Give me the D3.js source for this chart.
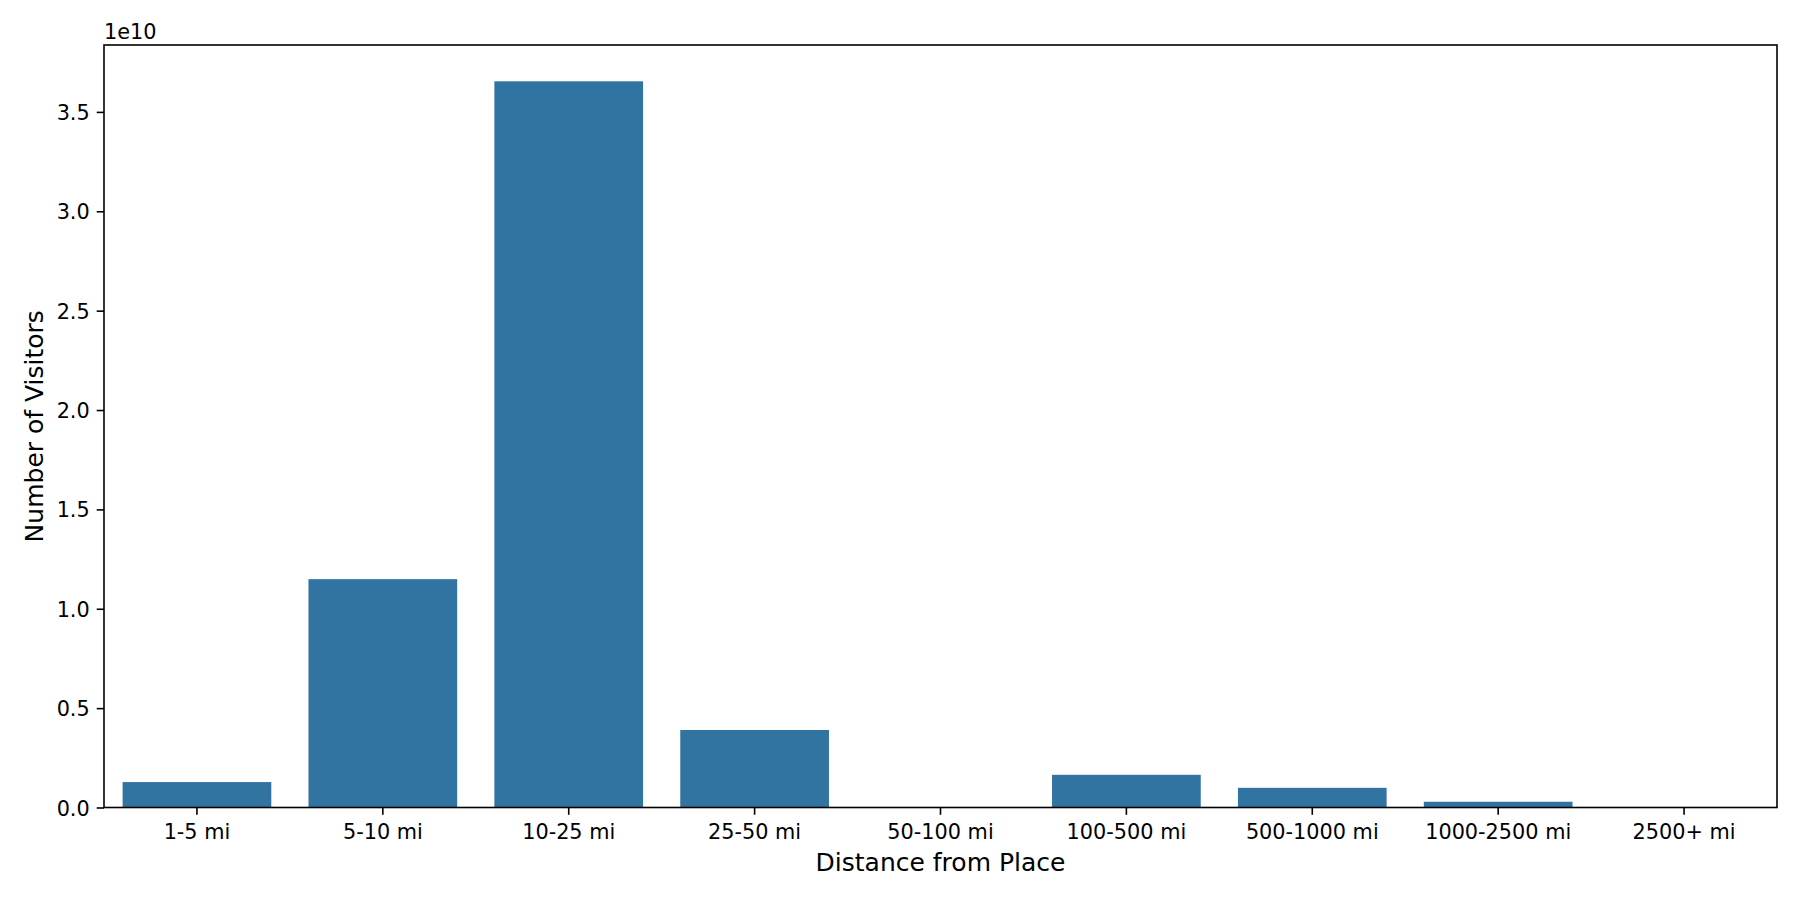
<!DOCTYPE html>
<html>
<head>
<meta charset="utf-8">
<script src="https://cdn.jsdelivr.net/npm/d3@7"></script>
<style>
  body { margin: 0; background: #fff; }
  svg { display: block; font-family: "DejaVu Sans", sans-serif; }
</style>
</head>
<body>
<div id="chart"></div>
<script>
// Visitors by distance band
let categories = ['1-5 mi', '5-10 mi', '10-25 mi', '25-50 mi', '50-100 mi',
  '100-500 mi', '500-1000 mi', '1000-2500 mi', '2500+ mi'];
let visitors = [1.28e9, 1.149e10, 3.654e10, 3.90e9, 5e6, 1.645e9, 9.9e8, 2.9e8, 8e6];
let yTicks = [0, 0.5e10, 1.0e10, 1.5e10, 2.0e10, 2.5e10, 3.0e10, 3.5e10];

let width = 1800;
let height = 900;
let margin = {left: 104, right: 23, top: 45, bottom: 92.5};
let barColor = '#3274a1';

let svg = d3.select('#chart')
  .append('svg')
  .attr('width', width)
  .attr('height', height);

let x = d3.scaleBand()
  .domain(categories)
  .range([margin.left, width - margin.right])
  .paddingInner(0.2)
  .paddingOuter(0.1);

// matplotlib leaves 5% headroom above the tallest bar
let y = d3.scaleLinear()
  .domain([0, d3.max(visitors) * 1.05])
  .range([height - margin.bottom, margin.top]);

let data = categories.map(function(c, i) { return {cat: c, value: visitors[i]}; });

svg.append('g')
  .selectAll('rect')
  .data(data)
  .enter()
  .append('rect')
  .attr('x', function(d) { return x(d.cat); })
  .attr('width', x.bandwidth())
  .attr('y', function(d) { return y(d.value); })
  .attr('height', function(d) { return y(0) - y(d.value); })
  .attr('fill', barColor);

// x axis
let xAxis = svg.append('g')
  .attr('transform', 'translate(0,' + (height - margin.bottom) + ')')
  .call(d3.axisBottom(x).tickSize(7.3).tickPadding(7).tickSizeOuter(0));

// y axis
let yAxis = svg.append('g')
  .attr('transform', 'translate(' + margin.left + ',0)')
  .call(d3.axisLeft(y).tickValues(yTicks).tickSize(7.3).tickPadding(7).tickSizeOuter(0)
    .tickFormat(function(v) { return (v / 1e10).toFixed(1); }));

[xAxis, yAxis].forEach(function(ax) {
  ax.select('.domain').remove();
  ax.selectAll('.tick line').attr('stroke', '#000').attr('stroke-width', 1.6);
  ax.selectAll('.tick text')
    .attr('fill', '#000')
    .style('font-size', '20.8px')
    .style('font-family', '"DejaVu Sans", sans-serif');
});
xAxis.selectAll('.tick text').attr('dy', null).attr('y', 31);
yAxis.selectAll('.tick text').attr('dy', null).attr('y', 7.5);

// frame around the plot area
svg.append('rect')
  .attr('x', margin.left)
  .attr('y', margin.top)
  .attr('width', width - margin.left - margin.right)
  .attr('height', height - margin.top - margin.bottom)
  .attr('fill', 'none')
  .attr('stroke', '#000')
  .attr('stroke-width', 1.6);

// offset text for the y axis
svg.append('text')
  .attr('x', margin.left)
  .attr('y', 39)
  .style('font-size', '20.8px')
  .text('1e10');

svg.append('text')
  .attr('x', (margin.left + width - margin.right) / 2)
  .attr('y', 871)
  .attr('text-anchor', 'middle')
  .style('font-size', '25px')
  .text('Distance from Place');

svg.append('text')
  .attr('transform', 'translate(42.5,' + ((margin.top + height - margin.bottom) / 2) + ') rotate(-90)')
  .attr('text-anchor', 'middle')
  .style('font-size', '25px')
  .text('Number of Visitors');
</script>
</body>
</html>
